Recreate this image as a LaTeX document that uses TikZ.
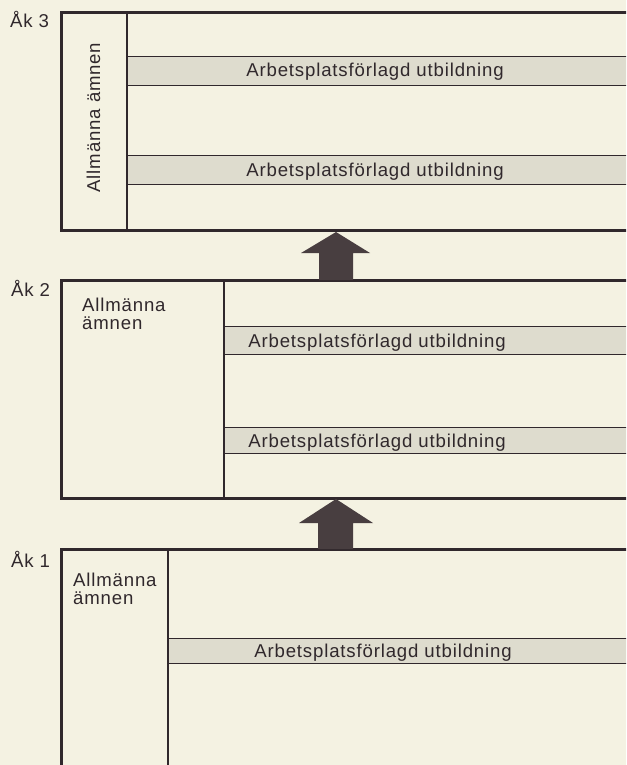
\documentclass[tikz,border=0pt]{standalone}
\usepackage{fontspec}
\setmainfont{Liberation Sans}[LetterSpace=4.5]
\definecolor{paper}{RGB}{244,242,226}
\definecolor{bandgrey}{RGB}{222,220,206}
\definecolor{ink}{RGB}{48,40,44}
\definecolor{arrowink}{RGB}{72,62,64}
\begin{document}
\begin{tikzpicture}[x=1pt,y=-1pt,
  frame/.style={draw=ink, line width=3pt},
  divider/.style={draw=ink, line width=1.5pt},
  bandbox/.style={fill=bandgrey, draw=ink, line width=1.2pt, anchor=north west, minimum width=600pt, inner sep=0pt},
  lbl/.style={text=ink, font=\fontsize{18.6}{19}\selectfont, inner sep=0pt},
  bigarrow/.style={fill=arrowink, draw=none}]
\clip (0,0) rectangle (626,765);
\fill[paper] (0,0) rectangle (626,765);

% ---- Åk 3 ----
\draw[frame] (61,13) rectangle (760,230);
\draw[divider] (127,13) -- (127,230);
\node[bandbox, minimum height=29pt] (b31) at (127,56) {};
\node[bandbox, minimum height=29pt] (b32) at (127,155) {};
\node[lbl, anchor=base] (t31) at (375,77) {Arbetsplatsförlagd utbildning};
\node[lbl, anchor=base] (t32) at (375,176.5) {Arbetsplatsförlagd utbildning};
\node[lbl, anchor=base, rotate=90] (a3) at (100,117.5) {Allmänna ämnen};
\node[lbl, anchor=base west] (k3) at (10,28) {Åk 3};

% ---- Åk 2 ----
\draw[frame] (61,280) rectangle (760,498);
\draw[divider] (224,280) -- (224,498);
\node[bandbox, minimum height=28pt] (b21) at (224,326) {};
\node[bandbox, minimum height=26pt] (b22) at (224,427) {};
\node[lbl, anchor=base] (t21) at (377,347) {Arbetsplatsförlagd utbildning};
\node[lbl, anchor=base] (t22) at (377,447) {Arbetsplatsförlagd utbildning};
\node[lbl, anchor=base west] (a2a) at (82,311.7) {Allmänna};
\node[lbl, anchor=base west] (a2b) at (82,329.5) {ämnen};
\node[lbl, anchor=base west] (k2) at (11,296.5) {Åk 2};

% ---- Åk 1 ----
\draw[frame] (61,549) rectangle (760,820);
\draw[divider] (168,549) -- (168,820);
\node[bandbox, minimum height=25pt] (b11) at (168,638) {};
\node[lbl, anchor=base] (t11) at (383,657) {Arbetsplatsförlagd utbildning};
\node[lbl, anchor=base west] (a1a) at (73,586) {Allmänna};
\node[lbl, anchor=base west] (a1b) at (73,604) {ämnen};
\node[lbl, anchor=base west] (k1) at (11,567) {Åk 1};

% ---- arrows ----
\fill[bigarrow] (336,232) -- (370,253) -- (353,253) -- (353,280) -- (319,280) -- (319,253) -- (301,253) -- cycle;
\fill[bigarrow] (336,499) -- (373,523) -- (353,523) -- (353,549) -- (318,549) -- (318,523) -- (299,523) -- cycle;
\end{tikzpicture}
\end{document}
